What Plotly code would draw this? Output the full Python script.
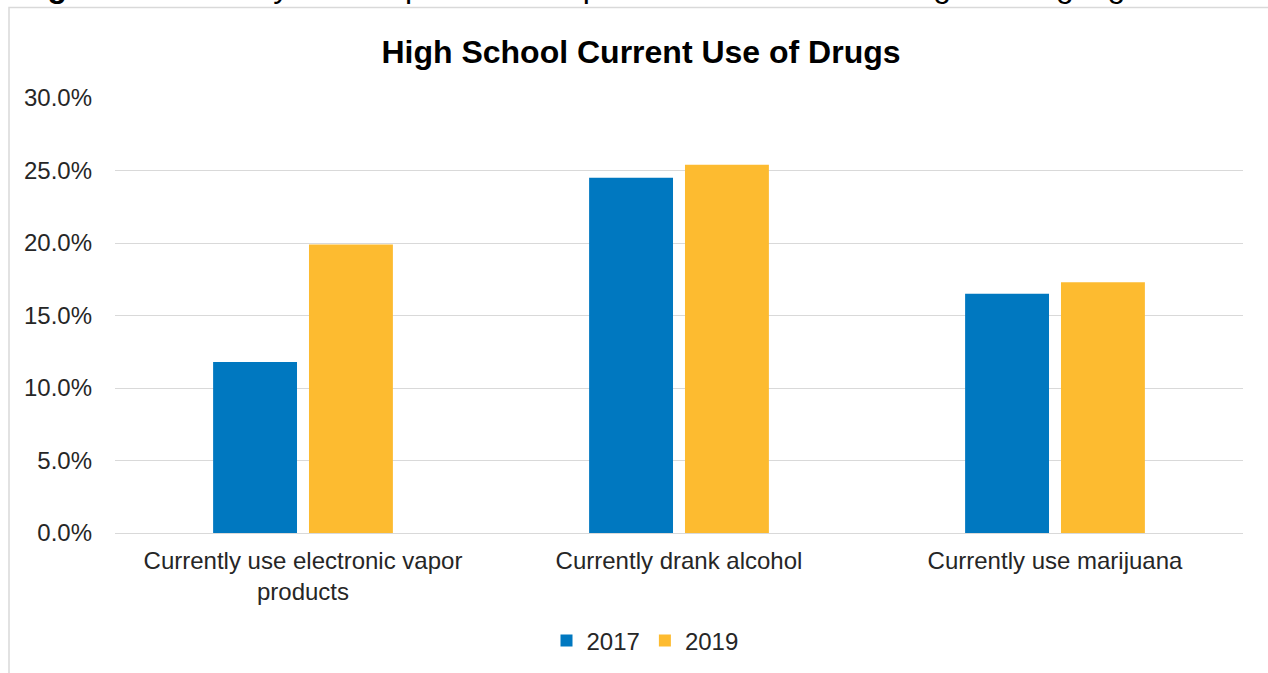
import plotly.graph_objects as go

categories = ["Currently use electronic vapor<br>products", "Currently drank alcohol", "Currently use marijuana"]
years = ["2017", "2019"]
values_2017 = [11.8, 24.5, 16.5]
values_2019 = [19.9, 25.4, 17.3]
colors = ["#0078C0", "#FDBB30"]
tick_vals = [0, 5, 10, 15, 20, 25, 30]
tick_text = ["0.0%", "5.0%", "10.0%", "15.0%", "20.0%", "25.0%", "30.0%"]

W, H = 1268, 673
L, R, T, B = 115, 25, 97.5, 140
pw, ph = W - L - R, H - T - B

fig = go.Figure()
for yr, vals, c in zip(years, [values_2017, values_2019], colors):
    fig.add_trace(go.Bar(x=categories, y=vals, name=yr, marker=dict(color=c, line=dict(width=0))))

def px2x(px):
    return (px - L) / pw

def py2y(py):
    return (H - B - py) / ph

fig.add_shape(type="rect", xref="paper", yref="paper",
              x0=px2x(9), x1=px2x(1300), y0=py2y(700), y1=py2y(7),
              line=dict(color="#d9d9d9", width=1.5), fillcolor="rgba(0,0,0,0)", layer="below")

fig.add_annotation(text="<b>Figure 6.</b> Year-to-year comparison of reported current use of drugs among high school students",
                   xref="paper", yref="paper", x=px2x(17), y=py2y(-15), xanchor="left", yanchor="middle",
                   showarrow=False, font=dict(family="Arial", size=32, color="#000000"))

fig.update_layout(
    width=W, height=H,
    margin=dict(l=L, r=R, t=T, b=B, pad=0),
    paper_bgcolor="white", plot_bgcolor="white",
    title=dict(text="<b>High School Current Use of Drugs</b>", x=641 / W, xanchor="center",
               y=1 - 52 / H, yanchor="middle", font=dict(family="Arial", size=32, color="#000000")),
    barmode="group", bargap=0.49, bargroupgap=0.125,
    font=dict(family="Arial", size=24, color="#262626"),
    legend=dict(orientation="h", x=645 / W, xref="container", xanchor="center",
                y=1 - 641 / H, yref="container", yanchor="middle",
                font=dict(family="Arial", size=24, color="#262626"), itemwidth=30, traceorder="normal"),
    showlegend=True,
)
fig.update_yaxes(range=[0, 30], tickvals=tick_vals, ticktext=tick_text, showgrid=True,
                 gridcolor="#d9d9d9", gridwidth=1, zeroline=True, zerolinecolor="#d9d9d9",
                 zerolinewidth=1, showline=False, ticks="", ticklabelstandoff=22,
                 tickfont=dict(family="Arial", size=24, color="#262626"))
fig.update_xaxes(showline=False, ticks="", ticklabelstandoff=11,
                 tickfont=dict(family="Arial", size=24, color="#262626"))

fig.write_html("out.html", config={"displayModeBar": False},
               post_script="document.body.style.margin='0px';")
